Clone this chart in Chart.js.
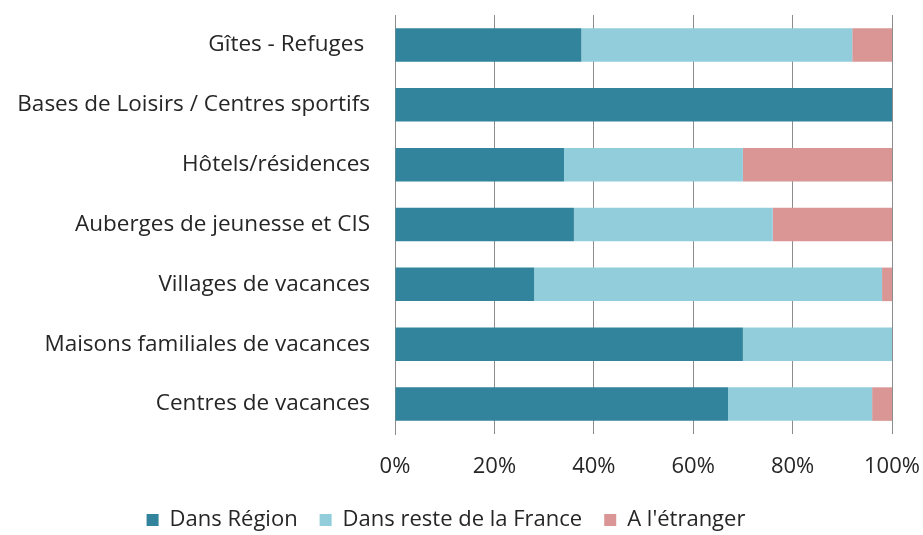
<!DOCTYPE html>
<html>
<head>
<meta charset="utf-8">
<script src="https://cdn.jsdelivr.net/npm/chart.js@4"></script>
<style>
  body { margin: 0; background: #fff; }
  #wrap { width: 923px; height: 535px; }
</style>
</head>
<body>
<div id="wrap"><canvas id="chart" width="923" height="535"></canvas></div>
<script>
// categories, top to bottom
let categories = [
    "Gîtes - Refuges ",
    "Bases de Loisirs / Centres sportifs",
    "Hôtels/résidences",
    "Auberges de jeunesse et CIS",
    "Villages de vacances",
    "Maisons familiales de vacances",
    "Centres de vacances"
];

// parts in %
let dansRegion  = [37.5, 100, 34, 36, 28, 70, 67];
let resteFrance = [54.5, 0, 36, 40, 70, 30, 29];
let etranger    = [8, 0, 30, 24, 2, 0, 4];

let seriesNames = ["Dans Région", "Dans reste de la France", "A l'étranger"];
let tickValues = [0, 20, 40, 60, 80, 100];

let fontFam = "'Open Sans', 'Noto Sans', sans-serif";
let txt = "#262626";
let gridCol = "#8c8c8c";

var chartGraph = new Chart(document.getElementById("chart"), {
    type: 'bar',
    data: {
        labels: categories,
        datasets: [
            { label: seriesNames[0], data: dansRegion, backgroundColor: "#31849B" },
            { label: seriesNames[1], data: resteFrance, backgroundColor: "#92CDDC" },
            { label: seriesNames[2], data: etranger, backgroundColor: "#D99694" }
        ]
    },
    options: {
        indexAxis: 'y',
        responsive: false,
        animation: false,
        barPercentage: 0.56,
        categoryPercentage: 1,
        layout: { padding: { top: 15, right: 31, left: 0, bottom: -6 } },
        scales: {
            x: {
                stacked: true,
                min: 0,
                max: 100,
                afterBuildTicks: function(scale) {
                    scale.ticks = tickValues.map(function(v) { return { value: v }; });
                },
                afterFit: function(scale) {
                    scale.height = 53;
                    scale.paddingLeft = 0;
                    scale.paddingRight = 0;
                },
                grid: { color: gridCol, drawTicks: false },
                border: { display: false },
                ticks: {
                    padding: 20,
                    color: txt,
                    font: { family: fontFam, size: 22 },
                    callback: function(v) { return v + "%"; }
                }
            },
            y: {
                stacked: true,
                afterFit: function(scale) {
                    scale.width = 395;
                    scale.paddingTop = 0;
                    scale.paddingBottom = 0;
                },
                grid: { display: false, drawTicks: false },
                border: { display: true, color: gridCol },
                ticks: {
                    padding: 25,
                    color: txt,
                    font: { family: fontFam, size: 22.5 }
                }
            }
        },
        plugins: {
            legend: {
                position: 'bottom',
                labels: {
                    color: txt,
                    font: { family: fontFam, size: 22 },
                    boxWidth: 12,
                    boxHeight: 12,
                    padding: 22
                }
            },
            tooltip: { enabled: false }
        }
    }
});
</script>
</body>
</html>
